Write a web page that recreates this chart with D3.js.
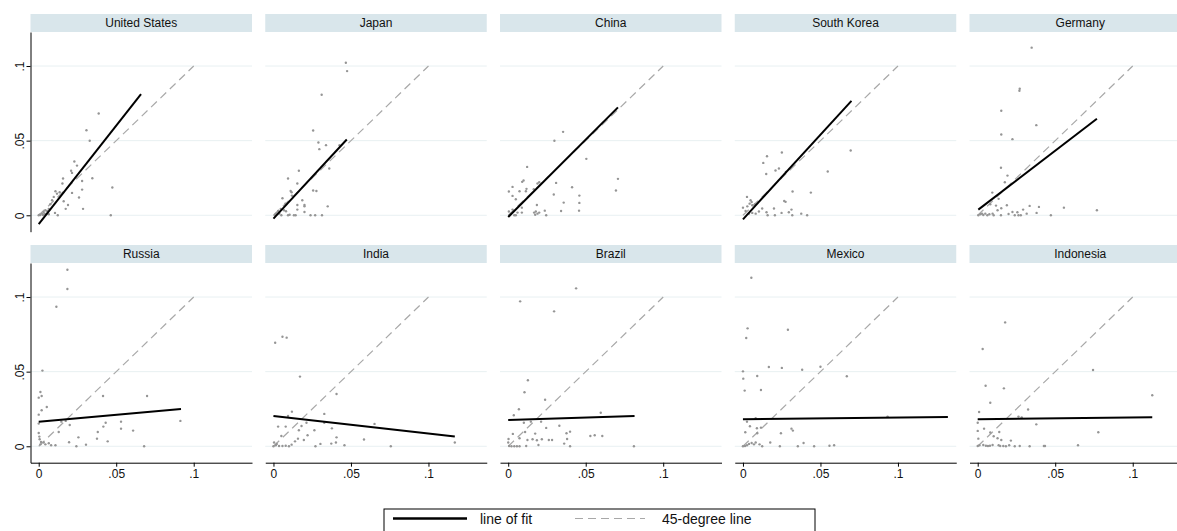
<!DOCTYPE html>
<head>
    <meta charset="utf-8">
    <script src="https://d3js.org/d3.v7.min.js"></script>
    <style>
        body {
            margin: 0;
            background-color: #fff;
        }

        svg text {
            font-family: Arial, "Liberation Sans", sans-serif;
            fill: #111;
        }

        .strip rect {
            fill: #d9e6eb;
        }

        .strip text {
            font-size: 12px;
            text-anchor: middle;
        }

        .grid line {
            stroke: #e8f0f2;
            stroke-width: 1px;
        }

        .axis text {
            font-size: 12px;
        }

        .axis path,
        .axis line {
            stroke: #000;
        }

        .dot {
            fill: #959595;
        }

        .diag {
            fill: none;
            stroke: #a8a8a8;
            stroke-width: 1.2px;
            stroke-dasharray: 8, 5;
        }

        .fit {
            fill: none;
            stroke: #000;
            stroke-width: 2px;
        }

        .legend text {
            font-size: 14px;
        }
    </style>
</head>

<body>
    <script>
        var width = 1177,
            height = 531;

        var countries = ["United States", "Japan", "China", "South Korea", "Germany",
            "Russia", "India", "Brazil", "Mexico", "Indonesia"];

        var xTicks = [0, 0.05, 0.1];
        var yTicks = [0, 0.05, 0.1];
        var diagEnds = [0, 0.1];

        var usPts = [[0.0387,0.0682],[0.0308,0.057],[0.0329,0.0499],[0.0475,0.0186],[0.0465,0],[0.0346,0.0248],
            [0.023,0.036],[0.0209,0.0298],[0.0215,0.0284],[0.0247,0.0333],[0.028,0.023],[0.028,0.0172],[0.026,0.0119],
            [0.0286,0.0043],[0.0215,0.015],[0.0189,0.0069],[0.0174,0.0043],[0.0161,0.0094],[0.0157,0.0246],[0.0153,0.0213],
            [0.0135,0.0154],[0.0118,0.0145],[0.0108,0.0161],[0.0097,0.0123],[0.0086,0.0101],[0.0105,0.0016],[0.0123,0],
            [0.0075,0.0074],[0.0065,0.0043],[0.0054,0.0029],[0.0043,0.0034],[0.0032,0.0022],[0.0022,0.0011],[0.0011,0.0002],
            [0,0],[0.0028,0.0002],[0.0049,0.0011],[0.0065,0.0007],[0.0037,0.0009],[0.0006,0.0004]];

        var japanPts = [[0.0467,0.1022],[0.0475,0.0966],[0.0311,0.0808],[0.0256,0.0568],[0.029,0.0488],[0.0296,0.0443],
            [0.0339,0.047],[0.0426,0.047],[0.036,0.0313],[0.0164,0.0298],[0.0094,0.0246],[0.0154,0.0213],[0.0111,0.0163],
            [0.0117,0.0154],[0.0058,0.0114],[0.0119,0.0132],[0.0256,0.0166],[0.0277,0.0163],[0.0186,0.0101],[0.02,0.0069],
            [0.02,0.006],[0.0154,0.0069],[0.0154,0.0038],[0.02,0.0022],[0.035,0.006],[0.0077,0.0078],[0.0068,0.0034],
            [0.0081,0.0027],[0.0047,0.0043],[0.003,0.0029],[0.0021,0.0016],[0.0013,0.0007],[0.0038,0.0011],[0.0009,0],
            [0.0051,0],[0.0094,0],[0.0104,0.0004],[0.0132,0],[0.0143,0],[0.0239,0],[0.0269,0],[0.0313,0]];

        var chinaPts = [[0.0354,0.0559],[0.0298,0.0499],[0.0504,0.0378],[0.0708,0.0244],[0.0695,0.0166],[0.0122,0.0324],
            [0.0099,0.0233],[0.009,0.0224],[0.0028,0.019],[0.0004,0.0159],[0.0028,0.013],[0.0049,0.0107],[0.0073,0.0161],
            [0.0114,0.0161],[0.0118,0.0177],[0.0165,0.0174],[0.0189,0.0213],[0.02,0.0221],[0.0309,0.0217],[0.0412,0.0188],
            [0.0294,0.0139],[0.0459,0.0132],[0.0358,0.0085],[0.0459,0.0083],[0.0457,0.0031],[0.0341,0.0029],[0.0236,0.0031],
            [0.0245,0],[0.0185,0.0069],[0.0167,0.0018],[0.0178,0.0025],[0.0189,0.0011],[0.02,0.0018],[0.0174,0.0004],
            [0.0088,0.0051],[0.006,0.0018],[0.0088,0.0018],[0.0039,0],[0.0017,0.0011],[0.0004,0.0025],[0.0028,0.0038],
            [0.0049,0],[0.0009,0]];

        var koreaPts = [[0.0695,0.0434],[0.0547,0.0293],[0.0251,0.0421],[0.0155,0.0396],[0.0131,0.0351],[0.015,0.0277],
            [0.021,0.03],[0.0232,0.0313],[0.0277,0.0291],[0.032,0.0159],[0.0438,0.0152],[0.0266,0.0096],[0.0275,0.009],
            [0.0026,0.0123],[0.0049,0.0101],[0.0056,0.0089],[0.0043,0.0078],[0.006,0.0067],[0.0077,0.0074],[0,0.0051],
            [0.0028,0.006],[0.0017,0.0029],[0.0039,0.0011],[0.006,0.0016],[0.0082,0.0011],[0.0103,0.0025],[0.0124,0.0045],
            [0.0152,0.002],[0.0159,0],[0.02,0.0045],[0.0206,0],[0.0249,0.0016],[0.0296,0.002],[0.0313,0.0038],[0.0318,0],
            [0.0376,0.0011],[0.0414,0]];

        var germanyPts = [[0.0348,0.1123],[0.0271,0.0848],[0.0269,0.0834],[0.0152,0.07],[0.0378,0.0604],[0.0152,0.0541],
            [0.0224,0.051],[0.015,0.0318],[0.0192,0.0266],[0.0175,0.0221],[0.0094,0.0152],[0.0135,0.011],[0.0118,0.0065],
            [0.0081,0.0074],[0.0152,0.0047],[0.0128,0.0034],[0.0188,0.0067],[0.0224,0.0022],[0.0256,0.002],[0.0293,0.0038],
            [0.0335,0.0063],[0.0395,0.0056],[0.0316,0.0011],[0.0263,0],[0.0239,0],[0.0199,0.0009],[0.015,0],[0.0556,0.0051],
            [0.0769,0.0034],[0.0472,0],[0.038,0.0016],[0.0278,0],[0.0004,0],[0.0017,0.0007],[0.0028,0.0011],[0.0036,0.0002],
            [0.0049,0.0011],[0.0062,0],[0.0075,0.0007],[0.0096,0.0011],[0.0103,0]];

        var russiaPts = [[0.0185,0.1183],[0.0185,0.1054],[0.0114,0.0935],[0.0024,0.0507],[0.0011,0.0364],[0.0019,0.0337],
            [0,0.0326],[0.0019,0.0241],[0.0052,0.0263],[0,0.0212],[0,0.0152],[0,0.0089],[0.0415,0.0337],[0.0699,0.0337],
            [0.0914,0.017],[0.0432,0.0158],[0.0531,0.0165],[0.0417,0.0132],[0.0531,0.0118],[0.0609,0.0105],[0.0381,0.0096],
            [0.0376,0.0051],[0.0445,0.0033],[0.0256,0.006],[0.0196,0.0027],[0.0305,0.0011],[0.0243,0],[0.068,0],
            [0.0129,0.0096],[0.0174,0.017],[0.02,0.0143],[0.0146,0.0165],[0.0032,0.0025],[0.0043,0.0013],[0.0065,0.002],
            [0.008,0.0007],[0.0108,0.0007],[0.0006,0.0047],[0.0015,0.0029],[0.0004,0.0065],[0.0011,0.0013]];

        var indiaPts = [[0.0011,0.0694],[0.0058,0.0734],[0.0085,0.0728],[0.0171,0.0467],[0.0407,0.035],[0.0328,0.0217],
            [0.0119,0.0232],[0.0094,0.0203],[0.003,0.0132],[0.0079,0.0132],[0.0181,0.0136],[0.0213,0.0158],[0.0328,0.0158],
            [0.0377,0.012],[0.0652,0.015],[0.0164,0.0107],[0.0264,0.0107],[0.0196,0.0042],[0.022,0.0074],[0.0158,0.0051],
            [0.0139,0.0033],[0.0051,0.0069],[0.0303,0.0016],[0.0271,0],[0.0373,0.0018],[0.0403,0.0025],[0.0407,0.006],
            [0.0458,0.0007],[0.0584,0.0045],[0.0757,0],[0.117,0.0025],[0.0004,0.0025],[0.0015,0.0007],[0.0036,0.0002],
            [0.0058,0.0002],[0.0079,0.0004],[0.01,0],[0.0117,0.0011],[0,0],[0.0021,0.0016]];

        var brazilPts = [[0.0438,0.1058],[0.0077,0.0971],[0.0296,0.0904],[0.0127,0.0442],[0.0105,0.0362],[0.0238,0.0312],
            [0.0069,0.0248],[0.0036,0.0208],[0.0597,0.0225],[0.0101,0.0158],[0.0146,0.0165],[0.0212,0.0165],[0.033,0.0138],
            [0.0245,0.0123],[0.003,0.0083],[0.0109,0.0096],[0.0174,0.0085],[0.0376,0.0087],[0.0399,0.0098],[0.038,0.0049],
            [0.053,0.0069],[0.0558,0.0074],[0.0607,0.0069],[0.0073,0.0054],[0.0124,0.0042],[0.0157,0.0047],[0.0185,0.004],
            [0.0217,0.0047],[0.0262,0.0042],[0.0283,0.0042],[0.0195,0.0009],[0.0116,0.0002],[0.0361,0.0018],[0.0399,0],
            [0.0811,0],[0,0.0025],[0.0006,0.0002],[0.0021,0],[0.0039,0],[0.0056,0],[0.0073,0],[0.0002,0.0049]];

        var mexicoPts = [[0.0054,0.1129],[0.003,0.079],[0.0021,0.0725],[0.029,0.0781],[0.0167,0.0531],[0.0251,0.0525],
            [0.0382,0.0513],[0.05,0.0533],[0,0.0502],[0.0002,0.0453],[0.0092,0.0471],[0.067,0.0469],[0.0011,0.0373],
            [0.0116,0.0377],[0.0933,0.0199],[0.0026,0.0165],[0.0082,0.0188],[0.0045,0.0134],[0.009,0.0121],[0.0116,0.0125],
            [0.0015,0.0094],[0.0092,0.0087],[0.0245,0.0087],[0.0313,0.0118],[0.0322,0.0105],[0.0176,0.0025],[0.0124,0],
            [0.0238,0],[0.0354,0],[0.0391,0.0022],[0.0459,0],[0.0558,0.0004],[0.0588,0.0007],[0,0],[0.0013,0.0002],
            [0.0026,0.0007],[0.0039,0.0016],[0.0056,0.0022],[0.0071,0.0013],[0.0082,0.0025],[0.0107,0.0013]];

        var indonesiaPts = [[0.0177,0.083],[0.0032,0.0652],[0.0744,0.0511],[0.0051,0.0406],[0.0169,0.0388],[0.1126,0.0342],
            [0.0081,0.0292],[0.0325,0.0246],[0.0009,0.023],[0.0263,0.0199],[0.0284,0.0194],[0.0378,0.0147],[0,0.0158],
            [0.0041,0.0118],[0,0.0103],[0.0081,0.0092],[0.0139,0.0096],[0.0778,0.0094],[0.0103,0.0067],[0.0128,0.0054],
            [0.0152,0.0042],[0.0004,0.0051],[0.0214,0.0038],[0.0647,0.0007],[0.0427,0.0002],[0.0434,0.0002],[0.0335,0],
            [0.0271,0.0002],[0.0239,0],[0.0203,0.0007],[0,0.0002],[0.0011,0.0007],[0.0036,0.0009],[0.0053,0.0004],
            [0.0066,0.0002],[0.0079,0.0004],[0.0096,0.0009],[0.0135,0.0007],[0.0145,0.0002],[0.0165,0.0002],[0.0182,0]];

        var scatter = [usPts, japanPts, chinaPts, koreaPts, germanyPts,
            russiaPts, indiaPts, brazilPts, mexicoPts, indonesiaPts];

        // line of fit end points, [x, y]
        var fitFrom = [[0,-0.006],[0,-0.0022],[0,-0.0011],[0,-0.0027],[0.0004,0.0038],
            [0,0.0165],[0,0.0203],[0,0.0176],[0,0.0181],[0,0.0181]];
        var fitTo = [[0.066,0.0812],[0.0473,0.0508],[0.0708,0.0723],[0.07,0.0767],[0.0769,0.0647],
            [0.0918,0.025],[0.117,0.0065],[0.0815,0.0203],[0.1322,0.0196],[0.1126,0.0194]];

        var panelLeft = 30.5,
            colStep = 234.75,
            panelW = 221.5,
            stripTop = 14,
            stripH = 18,
            plotH = 199.7,
            rowStep = 231;

        var x = d3.scaleLinear().domain([-0.0053, 0.1376]).range([0, panelW]);
        var y = d3.scaleLinear().domain([-0.011, 0.1228]).range([plotH, 0]);

        var fmt = function(d) {
            return d === 0 ? "0" : String(d).replace(/^0/, "");
        };

        var svg = d3.select("body").append("svg")
            .attr("width", width)
            .attr("height", height);

        countries.forEach(function(name, i) {
            var col = i % 5,
                row = Math.floor(i / 5);

            var g = svg.append("g")
                .attr("transform", "translate(" + (panelLeft + col * colStep) + "," + (stripTop + row * rowStep) + ")");

            var strip = g.append("g").attr("class", "strip");
            strip.append("rect")
                .attr("width", panelW)
                .attr("height", stripH);
            strip.append("text")
                .attr("x", panelW / 2)
                .attr("y", stripH / 2)
                .attr("dy", "0.36em")
                .text(name);

            var plot = g.append("g")
                .attr("transform", "translate(0," + stripH + ")");

            plot.append("g")
                .attr("class", "grid")
                .selectAll("line")
                .data(yTicks)
                .enter().append("line")
                .attr("x1", 0)
                .attr("x2", panelW)
                .attr("y1", function(d) { return y(d); })
                .attr("y2", function(d) { return y(d); });

            plot.append("line")
                .attr("class", "diag")
                .attr("x1", x(diagEnds[0]))
                .attr("y1", y(diagEnds[0]))
                .attr("x2", x(diagEnds[1]))
                .attr("y2", y(diagEnds[1]));

            plot.selectAll(".dot")
                .data(scatter[i])
                .enter().append("circle")
                .attr("class", "dot")
                .attr("cx", function(d) { return x(d[0]); })
                .attr("cy", function(d) { return y(d[1]); })
                .attr("r", 1.2);

            plot.append("line")
                .attr("class", "fit")
                .attr("x1", x(fitFrom[i][0]))
                .attr("y1", y(fitFrom[i][1]))
                .attr("x2", x(fitTo[i][0]))
                .attr("y2", y(fitTo[i][1]));

            if (col === 0) {
                var ya = plot.append("g")
                    .attr("class", "axis")
                    .call(d3.axisLeft(y).tickValues(yTicks).tickFormat(fmt).tickSize(4).tickSizeOuter(0));
                ya.selectAll("text")
                    .attr("transform", "rotate(-90)")
                    .attr("x", 0)
                    .attr("y", -10.5)
                    .attr("dy", "0.35em")
                    .style("text-anchor", "middle");
            }

            if (row === 1) {
                plot.append("g")
                    .attr("class", "axis")
                    .attr("transform", "translate(0," + plotH + ")")
                    .call(d3.axisBottom(x).tickValues(xTicks).tickFormat(fmt).tickSize(4).tickSizeOuter(0).tickPadding(3));
            }
        });

        var legend = svg.append("g")
            .attr("class", "legend")
            .attr("transform", "translate(384,509)");

        legend.append("rect")
            .attr("width", 431)
            .attr("height", 40)
            .attr("fill", "#fff")
            .attr("stroke", "#000")
            .attr("stroke-width", 1);

        legend.append("line")
            .attr("class", "fit")
            .attr("x1", 9).attr("x2", 83)
            .attr("y1", 9.5).attr("y2", 9.5)
            .style("stroke-width", "2.5px");

        legend.append("text")
            .attr("x", 96)
            .attr("y", 9.5)
            .attr("dy", "0.36em")
            .text("line of fit");

        legend.append("line")
            .attr("class", "diag")
            .attr("x1", 191).attr("x2", 261)
            .attr("y1", 9.5).attr("y2", 9.5);

        legend.append("text")
            .attr("x", 278)
            .attr("y", 9.5)
            .attr("dy", "0.36em")
            .text("45-degree line");
    </script>
</body>
